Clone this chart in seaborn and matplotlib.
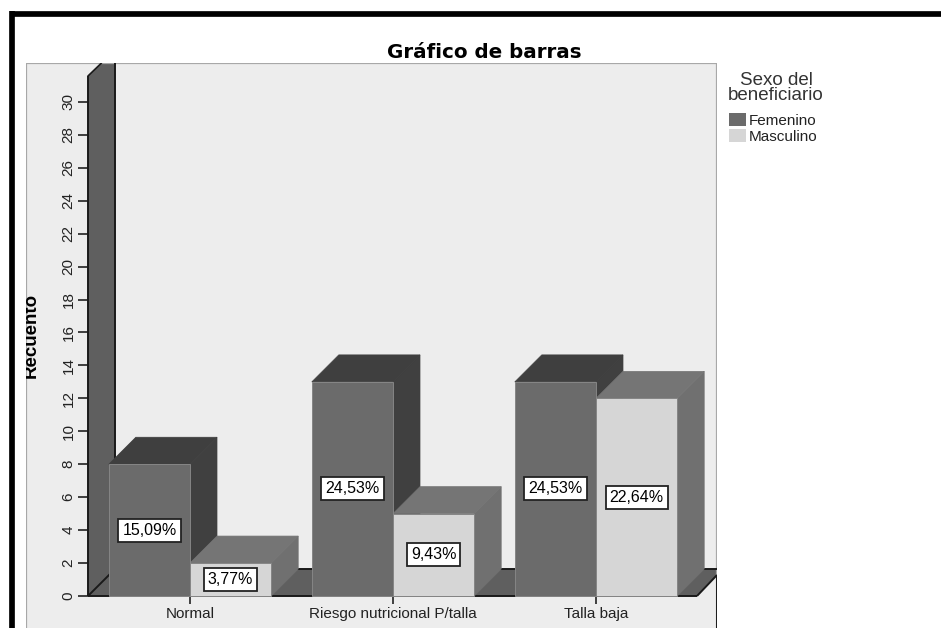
import matplotlib
matplotlib.use("Agg")
import matplotlib.pyplot as plt
import pandas as pd
import seaborn as sns
from matplotlib.lines import Line2D
from matplotlib.patches import Polygon, Rectangle

categories = ["Normal", "Riesgo nutricional P/talla", "Talla baja"]
femenino = [8, 13, 13]
masculino = [2, 5, 12]
pct_femenino = ["15,09%", "24,53%", "24,53%"]
pct_masculino = ["3,77%", "9,43%", "22,64%"]
y_ticks = list(range(0, 31, 2))

W, H = 941, 628
# pixel layout of the panel
PANEL_L, PANEL_R, PANEL_T = 26, 717, 63
X0_PX, X_STEP = 190, 203  # first category, px per category
Y0_PX, Y_STEP = 596, 16.47  # count 0, px per count
DEPTH = 27

FEM_FRONT, FEM_TOP, FEM_SIDE = "#6b6b6b", "#3f3f3f", "#404040"
MAS_FRONT, MAS_TOP, MAS_SIDE = "#d6d6d6", "#757575", "#707070"
PANEL = "#ededed"
WALL = "#5f5f5f"
INK = "#222222"

sns.set_theme(style="white")
plt.rcParams["font.family"] = ["Liberation Sans", "DejaVu Sans"]

df = pd.DataFrame(
    {
        "cat": categories * 2,
        "sexo": ["Femenino"] * 3 + ["Masculino"] * 3,
        "n": femenino + masculino,
    }
)

fig = plt.figure(figsize=(W / 100, H / 100), dpi=100, facecolor="white")
ax = fig.add_axes(
    [PANEL_L / W, 0, (PANEL_R - PANEL_L) / W, (H - PANEL_T) / H], facecolor=PANEL
)

sns.barplot(
    df,
    x="cat",
    y="n",
    hue="sexo",
    order=categories,
    palette={"Femenino": FEM_FRONT, "Masculino": MAS_FRONT},
    width=0.8,
    gap=0,
    saturation=1,
    edgecolor="#858585",
    linewidth=0.7,
    ax=ax,
    zorder=5,
)

ax.set_xlim((PANEL_L - X0_PX) / X_STEP, (PANEL_R - X0_PX) / X_STEP)
ax.set_ylim((Y0_PX - H) / Y_STEP, (Y0_PX - PANEL_T) / Y_STEP)

dx = DEPTH / X_STEP
dy = DEPTH / Y_STEP
x_axis = (88 - X0_PX) / X_STEP
x_end = (697 - X0_PX) / X_STEP
y_top = (Y0_PX - 76) / Y_STEP
y_max = ax.get_ylim()[1]
x_right = ax.get_xlim()[1]
y_corner = (Y0_PX - 575) / Y_STEP

# floor and left wall
ax.add_patch(
    Polygon(
        [(x_axis, 0), (x_axis + dx, dy), (x_right, dy), (x_right, y_corner), (x_end, 0)],
        fc=WALL, ec="none", zorder=1,
    )
)
ax.add_patch(
    Polygon(
        [(x_axis, 0), (x_axis + dx, dy), (x_axis + dx, y_max), (x_axis + dx / 2, y_max), (x_axis, y_top)],
        fc=WALL, ec="none", zorder=2,
    )
)
edge = dict(color="#1a1a1a", lw=1.4, zorder=3, solid_capstyle="butt")
ax.add_line(Line2D([x_axis + dx, x_axis + dx], [dy, y_max], **edge))
ax.add_line(Line2D([x_axis, x_axis], [0, y_top], **edge))
ax.add_line(Line2D([x_axis, x_axis + dx / 2], [y_top, y_max], color="#1a1a1a", lw=1.2, zorder=3))
ax.add_line(Line2D([x_axis, x_axis + dx], [0, dy], **edge))
ax.add_line(Line2D([x_axis + dx, x_right], [dy, dy], **edge))
ax.add_line(Line2D([x_axis, x_end], [0, 0], **edge))
ax.add_line(Line2D([x_end, x_right], [0, y_corner], **edge))
ax.add_line(Line2D([x_right - 0.002, x_right - 0.002], [y_corner, ax.get_ylim()[0]], **edge))

# bar depth, built from the seaborn bars; the light bars sit in front of the dark sides
for container, top, side, z in zip(
    ax.containers, (FEM_TOP, MAS_TOP), (FEM_SIDE, MAS_SIDE), (3.5, 4.2)
):
    for b in container:
        x, w, h = b.get_x(), b.get_width(), b.get_height()
        ax.add_patch(Polygon([(x + w, 0), (x + w + dx, dy), (x + w + dx, h + dy), (x + w, h)], fc=side, ec=side, lw=0.5, zorder=z))
        ax.add_patch(Polygon([(x, h), (x + dx, h + dy), (x + w + dx, h + dy), (x + w, h)], fc=top, ec=top, lw=0.5, zorder=z))

box = dict(boxstyle="square,pad=0.25", fc="white", ec=INK, lw=1.3)
for container, pcts in zip(ax.containers, (pct_femenino, pct_masculino)):
    for b, pct in zip(container, pcts):
        ax.text(b.get_x() + b.get_width() / 2, b.get_height() / 2, pct, ha="center", va="center",
                fontsize=11.5, color="black", zorder=8, bbox=box)

# axes lines and ticks
ax.spines["left"].set_position(("data", x_axis))
ax.spines["left"].set_bounds(0, 0)
ax.spines["bottom"].set_position(("data", 0))
ax.spines["bottom"].set_bounds(0, 0)
ax.spines["top"].set_visible(False)
ax.spines["right"].set_visible(False)
ax.set_yticks(y_ticks)
ax.set_xticks(range(len(categories)), categories)
ax.tick_params(axis="y", length=7, width=1.2, color=INK, labelsize=11, labelcolor=INK, pad=2, left=True)
ax.tick_params(axis="x", length=6, width=1.2, color=INK, labelsize=11, labelcolor=INK, pad=2, bottom=True)
for t in ax.get_yticklabels():
    t.set_rotation(90)
    t.set_va("center")
ax.set_xlabel("")
ax.set_ylabel("")

# panel border
ax.add_patch(Rectangle((0, -0.1), 1, 1.1, transform=ax.transAxes, fill=False, ec="#a8a8a8", lw=1.6, zorder=2.5))

ax.legend_.remove()
handles = [
    Rectangle((0, 0), 1, 1, fc=FEM_FRONT, ec="none"),
    Rectangle((0, 0), 1, 1, fc=MAS_FRONT, ec="none"),
]
fig.legend(
    handles, ["Femenino", "Masculino"],
    loc="upper left", bbox_to_anchor=(729 / W, 1 - 113 / H), frameon=False,
    fontsize=11, handlelength=1.1, handleheight=0.9, handletextpad=0.2, labelspacing=0.12,
    borderpad=0, borderaxespad=0, labelcolor=INK,
)
fig.text(776 / W, 1 - 88 / H, "Sexo del\nbeneficiario", ha="center", va="center", fontsize=13.5, color="#333333", linespacing=0.88)

fig.text(484 / W, 1 - 52 / H, "Gráfico de barras", ha="center", va="center", fontsize=14.3, fontweight="bold", color="black", family="DejaVu Sans")
fig.text(31 / W, 1 - 335 / H, "Recuento", rotation=90, ha="center", va="center", fontsize=13.5, fontweight="bold", color="black")

# the axis title is cut off at the panel edge in the reference
fig.add_artist(Rectangle((15 / W, 0), 10.5 / W, 1 - 64 / H, fc="white", ec="none", zorder=4))

# black frame around the screenshot
fig.add_artist(Line2D([12 / W, 12 / W], [0, 1 - 11 / H], color="black", lw=4.1, solid_capstyle="butt", zorder=5))
fig.add_artist(Line2D([9.5 / W, 1], [1 - 14 / H, 1 - 14 / H], color="black", lw=4.1, solid_capstyle="butt", zorder=5))

fig.savefig("out.png", dpi=100)
